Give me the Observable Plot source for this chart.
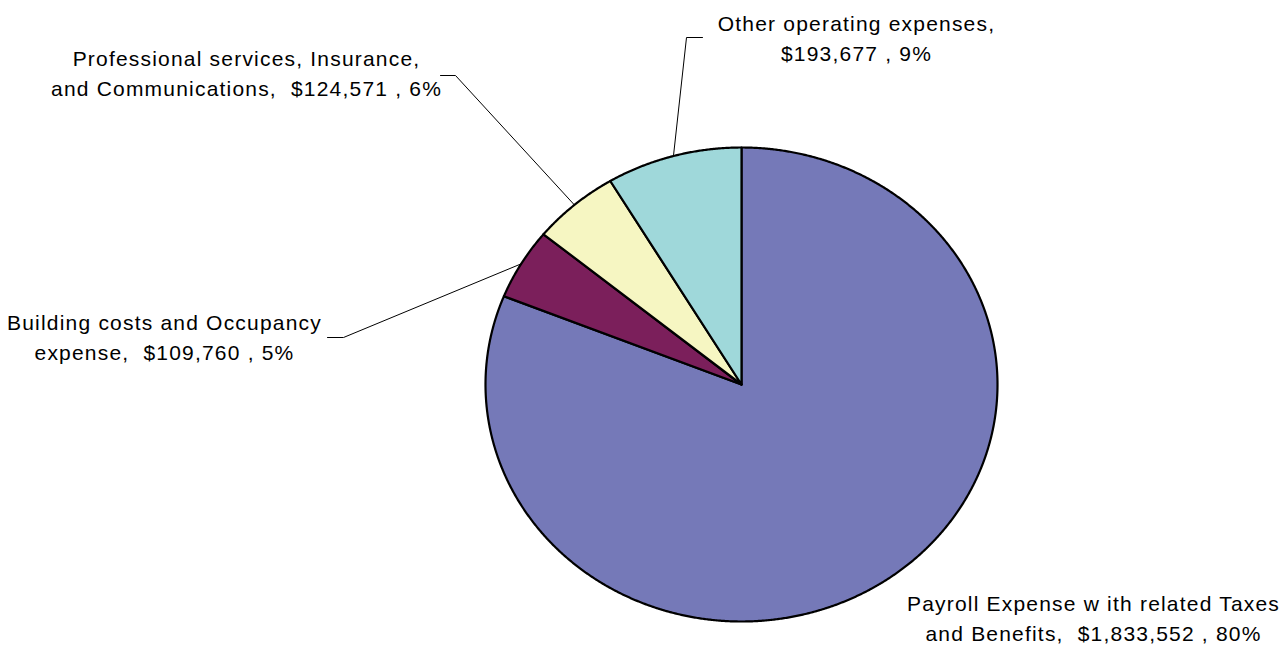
<!DOCTYPE html>
<html>
<head>
<meta charset="utf-8">
<script src="https://cdn.jsdelivr.net/npm/d3@7"></script>
<script src="https://cdn.jsdelivr.net/npm/@observablehq/plot@0.6"></script>
<style>
  html, body { margin: 0; padding: 0; background: #ffffff; }
  #chart svg { overflow: visible; }
  #chart svg text { white-space: pre; letter-spacing: 1.2px; }
</style>
</head>
<body>
<div id="chart"></div>
<script>
// ---- Data ----
const categories = [
  "Payroll Expense w ith related Taxes and Benefits,",
  "Building costs and Occupancy expense,",
  "Professional services, Insurance, and Communications,",
  "Other operating expenses,"
];
// how each category name is split into two label lines
const nameLine1 = [
  "Payroll Expense w ith related Taxes",
  "Building costs and Occupancy",
  "Professional services, Insurance,",
  "Other operating expenses,"
];
const nameLine2 = [
  "and Benefits,",
  "expense,",
  "and Communications,",
  ""
];
const values = [1833552, 109760, 124571, 193677];
const percentLabels = ["80%", "5%", "6%", "9%"];
const colors = ["#7579b8", "#7b1f5b", "#f6f6c2", "#9fd8da"];

// ---- Layout ----
const W = 1279, H = 645;
const cx = 741, cy = 384, rx = 256, ry = 237;
const toX = px => (px - cx) / rx;   // pixel -> data units
const toY = py => (cy - py) / ry;

// label centre positions and leader elbows (pixels)
const labelPos = [
  {x: 1093, y: 616, leader: null},
  {x: 164, y: 335, leader: {elbow: [343, 337], end: [327, 337]}},
  {x: 246, y: 71,  leader: {elbow: [455, 75],  end: [440, 75]}},
  {x: 856, y: 36,  leader: {elbow: [686, 37],  end: [702, 37]}}
];

const fmt = d3.format(",");
const arcs = d3.pie().sort(null).value(d => d)(values);

// slice polygons
const slices = [];
arcs.forEach((a, i) => {
  const pts = [{slice: i, x: 0, y: 0, color: colors[i]}];
  const n = Math.max(2, Math.ceil((a.endAngle - a.startAngle) / 0.005));
  for (let k = 0; k <= n; k++) {
    const t = a.startAngle + (a.endAngle - a.startAngle) * k / n;
    pts.push({slice: i, x: Math.sin(t), y: Math.cos(t), color: colors[i]});
  }
  pts.push({slice: i, x: 0, y: 0, color: colors[i]});
  slices.push(...pts);
});

// leader lines
const leaders = [];
arcs.forEach((a, i) => {
  const L = labelPos[i].leader;
  if (!L) return;
  const m = (a.startAngle + a.endAngle) / 2;
  leaders.push({k: i, x: Math.sin(m), y: Math.cos(m)});
  leaders.push({k: i, x: toX(L.elbow[0]), y: toY(L.elbow[1])});
  leaders.push({k: i, x: toX(L.end[0]), y: toY(L.end[1])});
});

// labels
const labels = values.map((v, i) => {
  const val = "$" + fmt(v) + " , " + percentLabels[i];
  const line2 = nameLine2[i] ? nameLine2[i] + "  " + val : val;
  return {x: toX(labelPos[i].x), y: toY(labelPos[i].y), text: nameLine1[i] + "\n" + line2};
});

const chart = Plot.plot({
  width: W,
  height: H,
  marginLeft: cx - rx,
  marginRight: W - (cx + rx),
  marginTop: cy - ry,
  marginBottom: H - (cy + ry),
  x: {domain: [-1, 1], axis: null},
  y: {domain: [-1, 1], axis: null},
  color: {type: "identity"},
  style: {fontFamily: "'Liberation Sans', Arial, sans-serif", background: "#ffffff"},
  marks: [
    Plot.line(leaders, {x: "x", y: "y", z: "k", stroke: "#000", strokeWidth: 1, curve: "linear", clip: false}),
    Plot.line(slices, {x: "x", y: "y", z: "slice", fill: "color", stroke: "#000", strokeWidth: 2.2, strokeLinejoin: "round", curve: "linear"}),
    Plot.text(labels, {x: "x", y: "y", text: "text", fontSize: 21, lineHeight: 1.4, textAnchor: "middle", lineAnchor: "middle", fill: "#000", clip: false})
  ]
});
document.getElementById("chart").appendChild(chart);
</script>
</body>
</html>
